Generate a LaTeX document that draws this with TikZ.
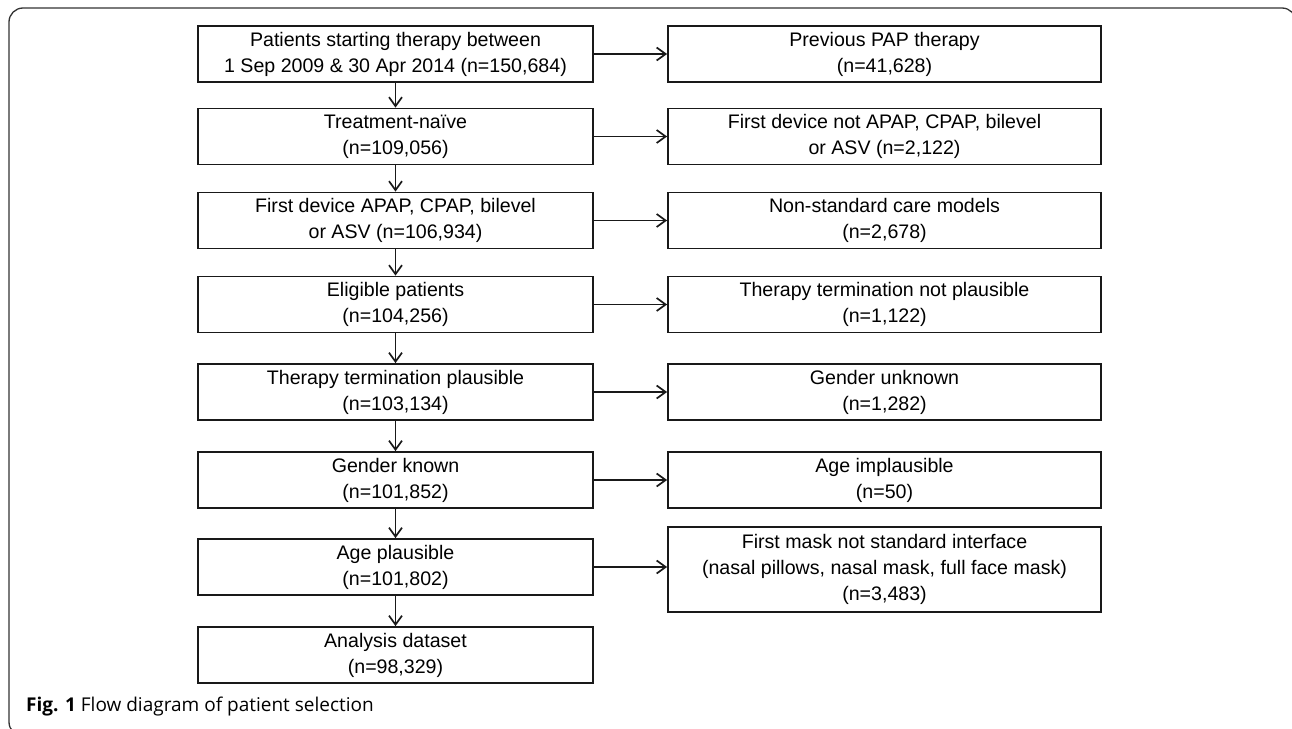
\documentclass[tikz,border=0pt]{standalone}
\usepackage{fontspec}
\setmainfont{Liberation Sans}
\newfontfamily\capfont{Open Sans}
\usetikzlibrary{arrows.meta}
\tikzset{
  lbox/.style={draw=black!90, line width=1.8pt, minimum width=395pt, minimum height=56pt, align=center, inner sep=0pt, font=\fontsize{19.6}{26}\selectfont},
  rbox/.style={lbox, minimum width=433pt},
  conn/.style={line width=1.7pt, draw=black!90, -{Straight Barb[length=9pt,width=13pt,line width=1.7pt]}},
}
\begin{document}
\begin{tikzpicture}[x=1pt,y=-1pt]
\useasboundingbox (0,0) rectangle (1292,728);
\draw[line width=1.3pt, draw=black!80, rounded corners=14pt] (9,8) rectangle (1296,736);

\node[lbox] (l1) at (395.5,54) {Patients starting therapy between\\1 Sep 2009 \& 30 Apr 2014 (n=150,684)};
\node[lbox] (l2) at (395.5,136.5) {Treatment-naïve\\(n=109,056)};
\node[lbox] (l3) at (395.5,220.5) {First device APAP, CPAP, bilevel\\or ASV (n=106,934)};
\node[lbox] (l4) at (395.5,304.5) {Eligible patients\\(n=104,256)};
\node[lbox] (l5) at (395.5,392) {Therapy termination plausible\\(n=103,134)};
\node[lbox] (l6) at (395.5,480) {Gender known\\(n=101,852)};
\node[lbox] (l7) at (395.5,567) {Age plausible\\(n=101,802)};
\node[lbox] (l8) at (395.5,655) {Analysis dataset\\(n=98,329)};

\node[rbox] (r1) at (884.5,54) {Previous PAP therapy\\(n=41,628)};
\node[rbox] (r2) at (884.5,136.5) {First device not APAP, CPAP, bilevel\\or ASV (n=2,122)};
\node[rbox] (r3) at (884.5,220.5) {Non-standard care models\\(n=2,678)};
\node[rbox] (r4) at (884.5,304.5) {Therapy termination not plausible\\(n=1,122)};
\node[rbox] (r5) at (884.5,392) {Gender unknown\\(n=1,282)};
\node[rbox] (r6) at (884.5,480) {Age implausible\\(n=50)};
\node[rbox, minimum height=85pt] (r7) at (884.5,569.5) {First mask not standard interface\\(nasal pillows, nasal mask, full face mask)\\(n=3,483)};

\foreach \a/\b in {l1/l2,l2/l3,l3/l4,l4/l5,l5/l6,l6/l7,l7/l8}
  \draw[conn] (\a.south) -- (\b.north);
\foreach \i in {1,...,7}
  \draw[conn] (l\i.east) -- (l\i.east -| r\i.west);

\node[anchor=base west, inner sep=0pt, font=\capfont\fontsize{19}{22}\selectfont] (cap) at (26,711) {\textbf{Fig. 1} Flow diagram of patient selection};
\end{tikzpicture}
\end{document}
